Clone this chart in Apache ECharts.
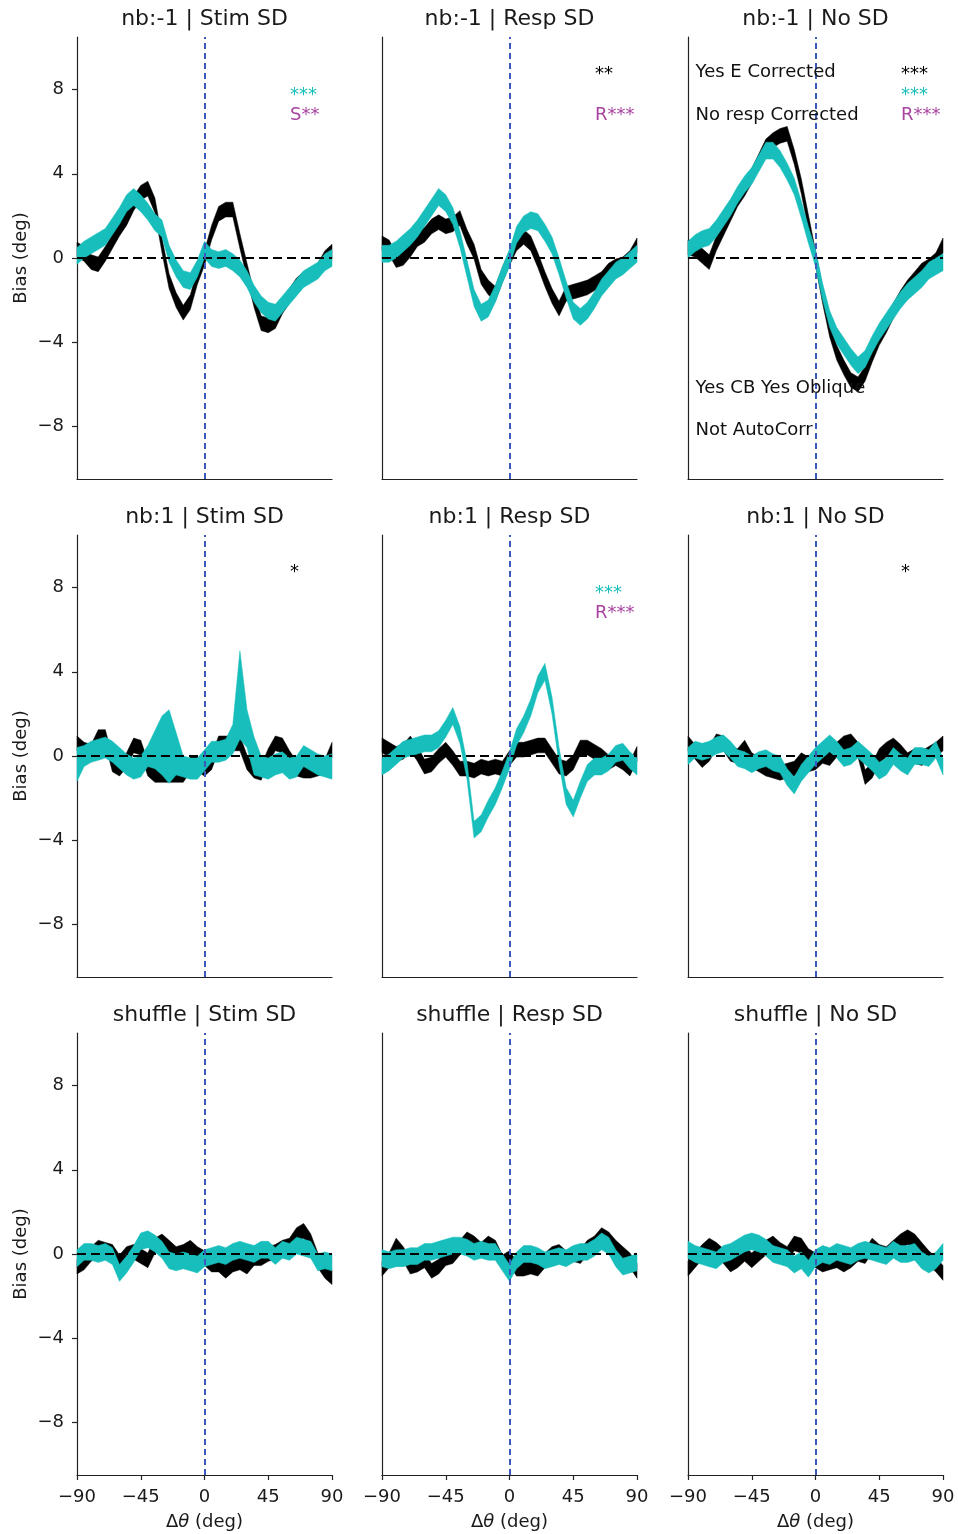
<!DOCTYPE html>
<html>
<head>
<meta charset="utf-8">
<title>Bias curves</title>
<script src="https://cdn.jsdelivr.net/npm/echarts@6/dist/echarts.min.js"></script>
<style>
  html, body { margin: 0; padding: 0; background: #fff; }
</style>
</head>
<body>
<div id="main" style="width:958px;height:1534px;"></div>
<script>
// x grid (deg) shared by every curve
const xs = [-90,-85,-80,-75,-70,-65,-60,-55,-50,-45,-40,-35,-30,-25,-20,-15,-10,-5,0,
            5,10,15,20,25,30,35,40,45,50,55,60,65,70,75,80,85,90];
const xTicks = [-90, -45, 0, 45, 90];
const yTicks = [-8, -4, 0, 4, 8];

// band centres, black (K) and cyan (C)
const nbm1StimK = [0.4,0.2,-0.2,-0.3,0.2,0.8,1.4,1.9,2.6,3.1,3.3,2.5,0.6,-1.1,-2.0,-2.6,-2.1,-0.9,0.0,
                   1.2,2.1,2.3,2.3,0.8,-0.6,-2.0,-3.1,-3.2,-3.0,-2.3,-1.8,-1.3,-1.0,-0.8,-0.6,0.0,0.3];
const nbm1StimC = [0.1,0.4,0.6,0.8,1.0,1.5,2.0,2.6,2.9,2.6,2.2,1.7,1.4,0.2,-0.5,-1.0,-1.1,-0.5,0.4,
                   0.0,-0.1,0.0,-0.2,-0.5,-1.0,-1.7,-2.2,-2.5,-2.6,-2.2,-1.8,-1.4,-1.0,-0.8,-0.6,-0.2,0.0];
const nbm1RespK = [0.7,0.5,-0.1,0.0,0.4,0.9,1.1,1.5,1.7,1.5,1.6,1.9,1.0,0.3,-0.9,-1.4,-1.7,-0.8,0.0,
                   0.7,1.0,0.7,-0.1,-1.0,-1.8,-2.4,-1.7,-1.6,-1.5,-1.4,-1.2,-1.0,-0.6,-0.4,-0.3,0.0,0.6];
const nbm1RespC = [0.2,0.2,0.4,0.7,1.0,1.4,1.9,2.4,2.9,2.6,2.0,0.9,-0.5,-1.9,-2.6,-2.4,-1.7,-0.8,0.0,
                   1.1,1.6,1.8,1.7,1.2,0.6,-0.4,-1.5,-2.5,-2.8,-2.5,-2.0,-1.4,-1.0,-0.6,-0.4,-0.1,0.2];
const nbm1NoK   = [0.5,0.4,0.1,-0.2,0.7,1.4,2.1,2.8,3.3,3.9,4.6,5.3,5.6,5.8,5.9,4.8,3.4,1.7,0.0,
                   -1.8,-3.4,-4.5,-5.2,-5.8,-6.0,-5.5,-4.6,-3.8,-3.2,-2.5,-1.9,-1.4,-1.0,-0.6,-0.4,-0.1,0.6];
const nbm1NoC   = [0.4,0.7,0.9,1.0,1.4,1.9,2.4,3.0,3.5,3.9,4.5,5.1,5.1,4.7,4.1,3.4,2.3,1.1,0.0,
                   -1.6,-2.9,-3.7,-4.2,-4.7,-5.1,-4.8,-4.1,-3.5,-3.0,-2.5,-2.0,-1.6,-1.3,-1.0,-0.6,-0.4,-0.2];

const nb1StimK = [0.6,0.3,0.2,0.9,0.9,-0.4,-0.6,-0.2,0.5,0.4,-0.6,-0.9,-0.9,-0.9,-0.9,-0.9,-0.4,-0.4,-0.6,
                  -0.3,0.6,0.6,0.6,0.6,-0.3,-0.7,-0.8,0.0,0.6,0.5,-0.1,-0.6,-0.7,-0.7,-0.6,-0.5,0.3];
const nb1StimC = [-0.4,0.0,0.2,0.3,0.4,0.2,-0.1,-0.4,-0.6,-0.5,0.0,0.3,0.5,0.45,0.1,-0.5,-0.6,-0.6,-0.2,
                  0.2,0.2,0.3,0.8,2.9,1.3,0.0,-0.5,-0.6,-0.4,-0.3,-0.6,-0.5,0.0,-0.2,-0.4,-0.5,-0.5];
const nb1StimCHalf = [0.8,0.5,0.5,0.5,0.5,0.5,0.5,0.5,0.5,0.5,0.5,0.9,1.4,1.75,1.0,0.5,0.5,0.5,0.5,
                      0.5,0.5,0.5,0.7,2.1,0.9,0.9,0.5,0.5,0.5,0.5,0.5,0.5,0.5,0.5,0.5,0.5,0.6];
const nb1RespK = [0.5,0.3,0.1,0.2,0.6,0.1,-0.5,-0.4,0.0,0.3,-0.1,-0.6,-0.6,-0.7,-0.5,-0.6,-0.5,-0.6,-0.1,
                  0.3,0.3,0.4,0.5,0.5,0.0,-0.5,-0.6,-0.3,0.4,0.4,0.2,0.0,-0.3,-0.1,-0.3,-0.6,0.1];
const nb1RespC = [-0.5,-0.3,0.0,0.3,0.4,0.5,0.6,0.6,0.8,1.3,1.9,1.0,-0.7,-3.5,-3.2,-2.5,-1.9,-1.1,-0.2,
                  0.9,1.5,2.3,3.4,4.0,2.4,0.0,-1.9,-2.5,-1.6,-0.8,-0.5,-0.5,-0.3,0.1,0.2,-0.2,-0.5];
const nb1NoK   = [0.6,0.2,-0.2,0.1,0.7,0.6,0.1,0.0,0.4,-0.2,-0.4,-0.6,-0.7,-0.8,-0.7,-0.6,-0.2,-0.4,-0.3,
                  0.0,-0.1,0.3,0.6,0.7,0.3,-1.0,-0.7,0.0,0.3,0.5,0.2,-0.2,0.0,-0.1,0.1,0.3,0.6];
const nb1NoC   = [0.0,0.3,0.2,0.3,0.5,0.6,0.3,-0.1,-0.2,-0.4,-0.2,-0.1,-0.3,-0.4,-1.0,-1.4,-0.8,-0.4,0.0,
                  0.3,0.6,0.3,-0.1,0.0,0.3,0.0,-0.3,-0.7,-0.5,0.0,-0.3,-0.5,0.0,0.0,-0.1,0.3,-0.5];

const shufStimK = [-0.6,-0.4,0.0,0.3,0.2,0.1,-0.4,0.0,0.1,-0.1,-0.3,0.4,0.6,0.3,0.0,0.1,0.3,0.0,-0.2,
                   -0.5,-0.5,-0.8,-0.5,-0.4,-0.6,-0.2,-0.2,0.0,0.1,0.3,0.4,0.9,1.1,0.6,-0.3,-0.8,-1.1];
const shufStimC = [-0.2,0.1,0.1,0.0,0.1,-0.1,-0.9,-0.5,0.0,0.6,0.7,0.5,0.2,-0.3,-0.4,-0.3,-0.4,-0.5,-0.2,
                   -0.1,0.0,-0.1,0.1,0.2,0.1,0.0,0.2,0.2,-0.1,0.2,0.1,0.4,0.3,0.2,-0.4,-0.3,-0.4];
const shufRespK = [-0.7,-0.3,0.4,0.0,-0.6,-0.5,-0.3,-0.8,-0.6,-0.2,-0.1,0.3,0.7,0.5,0.2,0.5,0.3,-0.4,-0.2,
                   -0.7,-0.7,-0.6,-0.7,-0.3,0.0,0.1,-0.2,0.0,-0.1,0.3,0.5,0.9,0.7,0.3,0.0,-0.3,-0.8];
const shufRespC = [-0.2,-0.3,-0.2,-0.2,-0.1,-0.1,0.1,0.1,0.2,0.3,0.4,0.4,0.3,0.1,0.2,0.1,0.1,-0.4,-0.9,
                   -0.3,0.0,0.0,-0.1,-0.3,-0.2,-0.1,-0.2,0.0,0.1,0.1,0.3,0.6,0.4,-0.2,-0.6,-0.5,-0.4];
const shufNoK   = [-0.7,-0.3,0.1,0.4,0.2,-0.1,-0.5,-0.3,0.0,-0.3,0.0,0.3,0.5,0.2,0.0,0.5,0.4,-0.1,-0.3,
                   -0.5,-0.4,-0.3,-0.5,-0.3,0.0,-0.1,0.4,0.1,0.0,0.3,0.6,0.8,0.6,0.2,-0.2,-0.5,-0.9];
const shufNoC   = [0.2,0.0,-0.1,-0.2,-0.3,0.0,0.1,0.3,0.5,0.6,0.5,0.3,0.0,-0.1,-0.2,-0.5,-0.3,-0.7,-0.2,
                   0.0,-0.1,0.1,0.0,-0.1,0.1,0.2,0.1,0.0,-0.1,0.2,0.0,0.0,0.1,-0.3,-0.5,-0.3,0.1];

const halfK = 0.35;   // half band width, black
const halfC = 0.4;    // half band width, cyan

const titles = ['nb:-1 | Stim SD', 'nb:-1 | Resp SD', 'nb:-1 | No SD',
                'nb:1 | Stim SD', 'nb:1 | Resp SD', 'nb:1 | No SD',
                'shuffle | Stim SD', 'shuffle | Resp SD', 'shuffle | No SD'];

// significance marks and notes, [text, x, y, kind]
const notes = [
  [['***', 60, 7.75, 'c'], ['S**', 60, 6.8, 'm']],
  [['**', 60, 8.75, 'k'], ['R***', 60, 6.8, 'm']],
  [['Yes E Corrected', -85, 8.8, 't'], ['No resp Corrected', -85, 6.8, 't'],
   ['Yes CB Yes Oblique', -85, -6.2, 't'], ['Not AutoCorr', -85, -8.2, 't'],
   ['***', 60, 8.75, 'k'], ['***', 60, 7.75, 'c'], ['R***', 60, 6.8, 'm']],
  [['*', 60, 8.75, 'k']],
  [['***', 60, 7.75, 'c'], ['R***', 60, 6.8, 'm']],
  [['*', 60, 8.75, 'k']],
  [], [], []
];

const panels = [
  { k: nbm1StimK, c: nbm1StimC }, { k: nbm1RespK, c: nbm1RespC }, { k: nbm1NoK, c: nbm1NoC },
  { k: nb1StimK, c: nb1StimC, cHalf: nb1StimCHalf }, { k: nb1RespK, c: nb1RespC }, { k: nb1NoK, c: nb1NoC },
  { k: shufStimK, c: shufStimC }, { k: shufRespK, c: shufRespC }, { k: shufNoK, c: shufNoC }
];

const FONT = 'DejaVu Sans';
const CYAN = '#17bebb';
const MAG = '#a8449f';
const BLUE = '#3b58bd';
const INK = '#1a1a1a';
const kindColor = { k: '#000', c: CYAN, m: MAG, t: '#111' };

const colLeft = [77, 382, 688];
const rowTop = [37, 535, 1033];
const gw = 255, gh = 442;

const fmt = v => (v < 0 ? '\u2212' + Math.abs(v) : String(v));

function band(idx, centre, half, color, z) {
  const h = j => (Array.isArray(half) ? half[j] : half);
  const lo = centre.map((v, j) => v - h(j));
  const hi = centre.map((v, j) => v + h(j));
  return {
    type: 'custom',
    xAxisIndex: idx, yAxisIndex: idx,
    z: z, silent: true, animation: false,
    data: xs.map((x, j) => [x, lo[j], hi[j]]),
    encode: { x: 0, y: [1, 2] },
    renderItem: function (params, api) {
      if (params.dataIndex !== 0) return null;
      const pts = [];
      for (let j = 0; j < xs.length; j++) pts.push(api.coord([xs[j], hi[j]]));
      for (let j = xs.length - 1; j >= 0; j--) pts.push(api.coord([xs[j], lo[j]]));
      return { type: 'polygon', shape: { points: pts }, style: { fill: color, stroke: color, lineWidth: 0.5 } };
    }
  };
}

const grid = [], xAxis = [], yAxis = [], title = [], series = [];

panels.forEach((p, i) => {
  const r = Math.floor(i / 3), c = i % 3;
  grid.push({ left: colLeft[c], top: rowTop[r], width: gw, height: gh });
  title.push({
    text: titles[i], left: colLeft[c] + gw / 2, top: rowTop[r] - 29, textAlign: 'center', padding: 0,
    textStyle: { fontFamily: FONT, fontSize: 22, fontWeight: 'normal', color: INK }
  });
  xAxis.push({
    gridIndex: i, type: 'value', min: -90, max: 90,
    splitLine: { show: false },
    axisLine: { onZero: false, lineStyle: { color: '#222', width: 1.2 } },
    axisTick: { show: r === 2, customValues: xTicks, length: 5, lineStyle: { color: '#222', width: 1.2 } },
    axisLabel: { show: r === 2, customValues: xTicks, formatter: fmt, fontFamily: FONT, fontSize: 18, color: INK, margin: 13 },
    name: r === 2 ? '{n|\u0394}{i|\u03b8}{n| (deg)}' : '',
    nameLocation: 'middle', nameGap: 38,
    nameTextStyle: {
      rich: {
        n: { fontFamily: FONT, fontSize: 18, color: INK },
        i: { fontFamily: FONT, fontSize: 18, color: INK, fontStyle: 'italic' }
      }
    }
  });
  yAxis.push({
    gridIndex: i, type: 'value', min: -10.5, max: 10.5,
    splitLine: { show: false },
    axisLine: { show: true, onZero: false, lineStyle: { color: '#222', width: 1.2 } },
    axisTick: { show: c === 0, customValues: yTicks, length: 5, lineStyle: { color: '#222', width: 1.2 } },
    axisLabel: { show: c === 0, customValues: yTicks, formatter: fmt, fontFamily: FONT, fontSize: 18, color: INK, margin: 13 },
    name: c === 0 ? 'Bias (deg)' : '',
    nameLocation: 'middle', nameGap: 47, nameRotate: 90,
    nameTextStyle: { fontFamily: FONT, fontSize: 18, color: INK }
  });

  series.push(band(i, p.k, halfK, '#000', 2));
  series.push(band(i, p.c, p.cHalf || halfC, CYAN, 3));

  series.push({
    type: 'line', xAxisIndex: i, yAxisIndex: i, data: [], z: 5, silent: true, animation: false,
    markLine: {
      symbol: 'none', silent: true, animation: false, label: { show: false },
      data: [
        { yAxis: 0, lineStyle: { color: '#000', type: [9, 5], width: 2 } },
        { xAxis: 0, lineStyle: { color: BLUE, type: [6, 4], width: 2 } }
      ]
    }
  });

  series.push({
    type: 'scatter', xAxisIndex: i, yAxisIndex: i, z: 6, silent: true, animation: false,
    symbolSize: 1, itemStyle: { color: 'rgba(0,0,0,0)' },
    label: { show: true, position: 'right', distance: 0, fontFamily: FONT, fontSize: 18, opacity: 1 },
    data: notes[i].map(n => ({ value: [n[1], n[2]], label: { formatter: n[0], color: kindColor[n[3]] } }))
  });
});

const chart = echarts.init(document.getElementById('main'));
chart.setOption({
  backgroundColor: '#fff',
  animation: false,
  title: title,
  grid: grid,
  xAxis: xAxis,
  yAxis: yAxis,
  series: series
});
</script>
</body>
</html>
